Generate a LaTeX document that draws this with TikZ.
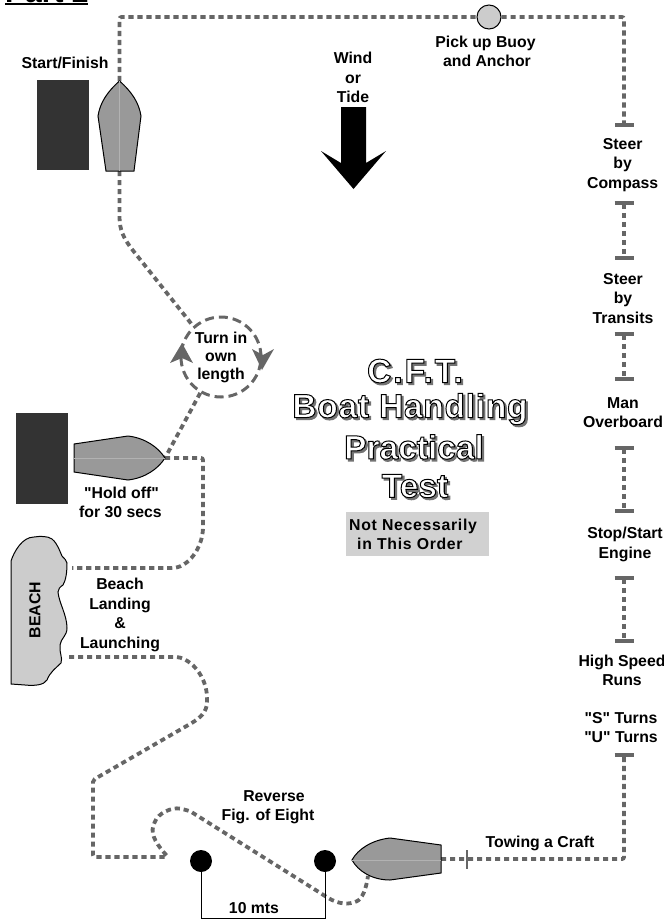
\documentclass[tikz,border=0pt]{standalone}
\usepackage{fontspec}
\setmainfont{Liberation Sans}
\newfontfamily\qfont{Liberation Sans}
\newfontfamily\spacedfont[LetterSpace=4.5]{Liberation Sans}
\newfontfamily\titlewide[LetterSpace=2.2]{Liberation Sans}
\newfontfamily\titlewider[LetterSpace=6]{Liberation Sans}
\usetikzlibrary{arrows.meta}
\definecolor{route}{HTML}{666666}
\definecolor{hullgray}{HTML}{999999}
\definecolor{darkblock}{HTML}{333333}
\definecolor{lightgray2}{HTML}{CCCCCC}
\newcommand{\lblfont}{\qfont\bfseries\fontsize{15.8}{19.4}\selectfont}
\newcommand{\outlined}[1]{\leavevmode\rlap{\kern2pt\raisebox{-2pt}{\special{pdf:code 2 Tr 1.2 w 0.45 0.45 0.45 RG 0.45 0.45 0.45 rg}#1}}\special{pdf:code 2 Tr 1 w 0 0 0 RG 1 1 1 rg}#1\special{pdf:code 0 Tr 1 w 0 0 0 RG 0 0 0 rg}}
\tikzset{
  lbl/.style={font=\lblfont,align=center,inner sep=0pt},
  titlelbl/.style={font=\bfseries\fontsize{33.5}{38}\selectfont,inner sep=0pt},
  dotted route/.style={draw=route,line width=3.8pt,dash pattern=on 5.2pt off 3.8pt,rounded corners=2pt},
  tbar/.style={{Bar[width=19pt,length=2.2pt]}-{Bar[width=19pt,length=2.2pt]},dotted route},
  tbarend/.style={-{Bar[width=19pt,length=2.2pt]},dotted route},
  hull/.style={draw=black,line width=1pt,fill=hullgray},
  keel/.style={draw=hullgray!75!white,line width=.5pt},
  block/.style={draw=black!80,line width=.8pt,fill=darkblock},
  markerdot/.style={circle,fill=black,minimum size=22pt,inner sep=0pt},
}
\begin{document}
\begin{tikzpicture}[x=1pt,y=-1pt]
\useasboundingbox (0,0) rectangle (664,919);
% heading (cut by the page edge)
\node[anchor=base west,inner sep=0pt,font=\bfseries\fontsize{30}{30}\selectfont] (heading) at (5,2) {Part 2};
\fill[black] (5,3.4) rectangle (88,5.4);
% named ends
\coordinate (b1tip) at (119.5,81);
\coordinate (b1stern) at (119.5,171);
\coordinate (b2tip) at (165,458);
\coordinate (b3tip) at (352,860);
\coordinate (b3stern) at (441,859);
\coordinate (beachA) at (72,568);
\coordinate (beachB) at (69,657);
\coordinate (t1) at (624,127);
\coordinate (t2a) at (624,201);
\coordinate (t2b) at (624,260);
\coordinate (t3a) at (624,332);
\coordinate (t3b) at (624,381);
\coordinate (t4a) at (624,446);
\coordinate (t4b) at (624,513);
\coordinate (t5a) at (624,576);
\coordinate (t5b) at (624,643);
\coordinate (t6) at (624,753);
\coordinate (towcorner) at (624,859);
\coordinate (tickA) at (467,850);
\coordinate (tickB) at (467,869);
\coordinate (dimA) at (201,918);
\coordinate (dimB) at (325,918);
% nodes on routes
\node[circle,draw=black,line width=1pt,fill=lightgray2,minimum size=24pt,inner sep=0pt] (buoy) at (489,17) {};
\node[circle,draw=route,line width=3pt,dash pattern=on 9pt off 5pt,minimum size=80pt,inner sep=0pt,font=\qfont\bfseries\fontsize{15.8}{18}\selectfont,align=center] (turn) at (221,357) {Turn in\\own\\length};
\node[markerdot] (markA) at (201,861) {};
\node[markerdot] (markB) at (325,861) {};
% routes
\draw[dotted route] (b1tip) |- (buoy.west);
\draw[tbarend] (buoy.east) -| (t1);
\draw[tbar] (t2a) -- (t2b);
\draw[tbar] (t3a) -- (t3b);
\draw[tbar] (t4a) -- (t4b);
\draw[tbar] (t5a) -- (t5b);
\draw[tbarend] (b3stern) -- (towcorner) -- (t6);
\draw[route,line width=2pt] (tickA) -- (tickB);
\draw[dotted route] (b1stern) -- (119.5,215) .. controls (119.5,230) and (124,238) .. (131,248) -- (turn.132);
\draw[dotted route] (turn.240) -- (b2tip);
\draw[dotted route] (b2tip) -- (203,458) -- (203,525) .. controls (203,548) and (188,568) .. (170,568) -- (beachA);
\draw[dotted route] (beachB) -- (178,657) .. controls (195,662) and (207,680) .. (207,700) .. controls (207,712) and (200,718) .. (190,724) -- (93,780) -- (93,857) -- (168,857) .. controls (158,846) and (150,835) .. (154,824) .. controls (158,813) and (172,807) .. (182,809) .. controls (186,810) and (190,811) .. (193,813) -- (322,894) .. controls (335,903) and (345,905) .. (355,902) .. controls (362,899) and (366,890) .. (368,876);
% measure line
\draw[black,line width=1pt] (markA) -- (dimA) -- (dimB) -- (markB);
% turn arrows
\fill[route] (182,343) -- (193,363) -- (182,358) -- (170,363) -- cycle;
\fill[route] (262,370) -- (252,349) -- (263,355) -- (274,349) -- cycle;
% blocks
\draw[block] (37,80) rectangle (88,169);
\draw[block] (16,413) rectangle (67,503);
% boats
\draw[hull] (b1tip) .. controls (132,92) and (139,103) .. (141,116) -- (134,171) -- (106,171) -- (98,116) .. controls (100,103) and (107,92) .. (b1tip) -- cycle;
\draw[keel] (b1tip) -- (b1stern);
\draw[hull] (b2tip) .. controls (158,447) and (145,438) .. (128,436) -- (74,444) -- (74,472) -- (128,480) .. controls (145,478) and (158,469) .. (b2tip) -- cycle;
\draw[keel] (74,458) -- (b2tip);
\draw[hull] (b3tip) .. controls (358,849) and (372,840) .. (390,838) -- (441,845) -- (441,873) -- (390,880) .. controls (372,880) and (358,871) .. (b3tip) -- cycle;
\draw[keel] (b3tip) -- (441,860);
% beach
\draw[draw=black,line width=1pt,fill=lightgray2] (11,561) .. controls (14,552) and (22,537) .. (34,537) .. controls (40,536) and (48,536) .. (52,539) .. controls (58,544) and (60,552) .. (62,556) .. controls (64,559) and (67,560) .. (67,563) .. controls (67,572) and (66,580) .. (63,585) .. controls (60,587) and (58,589) .. (58,592) .. controls (59,603) and (67,615) .. (67,628) .. controls (67,636) and (61,638) .. (60,645) .. controls (59,652) and (63,658) .. (61,663) .. controls (56,668) and (50,672) .. (47,680) .. controls (44,685) and (35,686) .. (25,685) -- (11,684) -- cycle;
\node[lbl,rotate=90] (beachlabel) at (35,610) {BEACH};
% labels
\node[lbl] (start) at (65,62.5) {Start/Finish};
\node[lbl] (pick) at (485.5,51.5) {Pick up Buoy\\\hspace*{3pt}and Anchor};
\node[lbl] (wind) at (353,77.5) {Wind\\or\\Tide};
\node[lbl] (s1) at (622.7,165) {Steer\\by\\Compass};
\node[lbl] (s2) at (623,298.5) {Steer\\by\\Transits};
\node[lbl] (s3) at (623,412.5) {Man\\Overboard};
\node[lbl] (s4) at (625,544.5) {Stop/Start\\Engine};
\node[lbl] (s5) at (622,670.5) {High Speed\\Runs};
\node[lbl] (s6) at (621,727.5) {"S" Turns\\"U" Turns};
\node[lbl] (tow) at (540,843) {Towing a Craft};
\node[lbl] (hold) at (120.5,502.5) {\hspace*{2pt}"Hold off"\\for 30 secs};
\node[lbl] (landing) at (120,615) {Beach\\Landing\\\&\\Launching};
\node[lbl] (fig) at (268,807.5) {\hspace*{12pt}Reverse\\Fig. of Eight};
\node[lbl] (ten) at (254,908) {10 mts};
% wind arrow
\fill[black] (341,107) -- (366,107) -- (366,163) -- (386,151) -- (353.5,189) -- (321,151) -- (341,163) -- cycle;
% title
\node[titlelbl] (t-a) at (415,372) {\titlewider\bfseries\outlined{C.F.T.}};
\node[titlelbl] (t-b) at (410,410) {\titlewide\bfseries\outlined{Boat Handling}};
\node[titlelbl] (t-c) at (414,448) {\outlined{Practical}};
\node[titlelbl] (t-d) at (415,487) {\outlined{Test}};
% note
\node[fill=lightgray2!90!white,minimum width=143pt,minimum height=44pt,inner sep=0pt] (notebox) at (417.5,534) {};
\node[inner sep=0pt,font={\spacedfont\bfseries\fontsize{15.8}{19}\selectfont},align=left,anchor=west] (note) at (349,534) {Not Necessarily\\\hspace*{8pt}in This Order};
\end{tikzpicture}
\end{document}
